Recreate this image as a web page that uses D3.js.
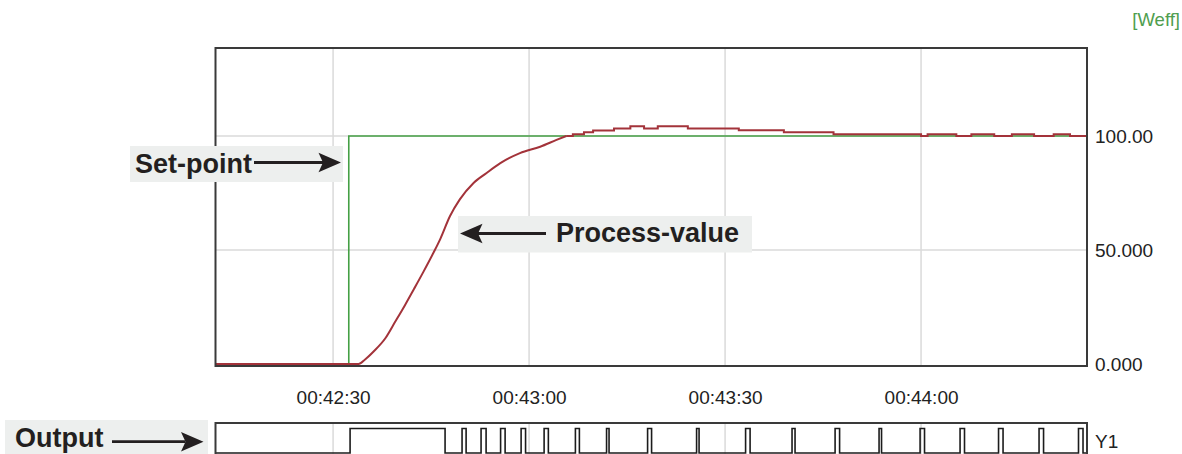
<!DOCTYPE html>
<html>
<head>
<meta charset="utf-8">
<script src="https://cdn.jsdelivr.net/npm/d3@7"></script>
<style>
  html, body { margin: 0; padding: 0; background: #fff; }
  svg { display: block; font-family: "Liberation Sans", Arial, sans-serif; }
</style>
</head>
<body>
<svg id="chart" width="1182" height="454"></svg>
<script>
// Time is in seconds after 00:42:00
const timeDomain = [12.0, 145.4];
const xTickValues = [30, 60, 90, 120];
const xTickLabels = ["00:42:30", "00:43:00", "00:43:30", "00:44:00"];
const yTickValues = [0, 50, 100];
const yTickLabels = ["0.000", "50.000", "100.00"];
const unitLabel = "[Weff]";
const outputLabel = "Y1";

// Set-point: step from 0 to 100
const setpointTimes = [12.0, 32.4, 145.4];
const setpointValues = [0, 100, 100];

// Process-value: smooth rise after the step
const pvRiseTimes = [12.0, 33.9, 34.9, 36.2, 38.0, 39.5, 41.0, 42.4, 43.8, 45.4, 46.4,
                     47.9, 49.4, 51.5, 53.5, 55.6, 58.6, 61.7, 64.2, 65.7];
const pvRiseValues = [0, 0, 2.0, 5.5, 11.3, 18.5, 25.8, 33.0, 40.3, 49.0, 54.8,
                      64.9, 72.2, 79.4, 83.8, 88.1, 92.5, 95.3, 98.3, 100];

// Process-value: quantised settling around the set-point
const pvSettleTimes = [65.7, 66.7, 68.4, 69.8, 73.0, 75.5, 77.6, 79.7, 84.3, 92.1, 99.0,
                       106.6, 120.0, 121.0, 125.4, 127.7, 131.2, 133.9, 137.3, 140.3, 142.8, 145.4];
const pvSettleValues = [100, 100.8, 101.6, 102.4, 103.3, 104.3, 103.3, 104.3, 103.3, 102.5, 101.6,
                        100.8, 100, 100.8, 100, 100.8, 100, 100.8, 100, 100.8, 100, 100];

// Output Y1: switching intervals (on / off times)
const outputOnTimes = [32.6, 49.74, 52.65, 55.64, 58.78, 62.30, 67.09, 71.86, 78.14, 85.64,
                       93.14, 100.25, 106.84, 113.57, 119.85, 125.97, 131.86, 138.06, 144.10];
const outputOffTimes = [47.14, 50.36, 53.42, 56.33, 59.46, 62.95, 67.70, 72.24, 78.75, 86.02,
                        93.83, 100.71, 107.53, 113.95, 120.53, 126.65, 132.55, 138.75, 144.79];

// Layout
const plot = { left: 215.5, right: 1087, top: 48, bottom: 366 };
const strip = { top: 423, bottom: 456, high: 428.5, low: 453 };
const frameColor = "#3a3a3a";
const gridColor = "#dadada";
const spColor = "#45a045";
const pvColor = "#a3333a";
const inkColor = "#231f20";
const noteFill = "#edefee";
const tickFont = 19;

const svg = d3.select("#chart");

const x = d3.scaleLinear().domain(timeDomain).range([plot.left, plot.right]);
const y = d3.scaleLinear().domain([0, 100]).range([364, 136]);
const yOut = d3.scaleLinear().domain([0, 1]).range([strip.low, strip.high]);

// ---- grid lines (main plot and output strip)
const grid = svg.append("g");
grid.selectAll("line.vx").data(xTickValues).join("line")
  .attr("x1", d => x(d)).attr("x2", d => x(d))
  .attr("y1", plot.top).attr("y2", plot.bottom)
  .attr("stroke", gridColor).attr("stroke-width", 1.5);
grid.selectAll("line.hy").data(yTickValues.filter(v => v > 0)).join("line")
  .attr("x1", plot.left).attr("x2", plot.right)
  .attr("y1", d => y(d)).attr("y2", d => y(d))
  .attr("stroke", gridColor).attr("stroke-width", 1.5);
const grid2 = svg.append("g");
grid2.selectAll("line").data(xTickValues).join("line")
  .attr("x1", d => x(d)).attr("x2", d => x(d))
  .attr("y1", strip.top).attr("y2", strip.bottom)
  .attr("stroke", gridColor).attr("stroke-width", 1.5);

// ---- set-point line
const spLine = d3.line().x(d => x(d[0])).y(d => y(d[1])).curve(d3.curveStepAfter);
svg.append("path")
  .datum(d3.zip(setpointTimes, setpointValues))
  .attr("d", spLine)
  .attr("fill", "none").attr("stroke", spColor).attr("stroke-width", 1.6);

// ---- process-value line
const pvRise = d3.line().x(d => x(d[0])).y(d => y(d[1])).curve(d3.curveMonotoneX);
const pvSettle = d3.line().x(d => x(d[0])).y(d => y(d[1])).curve(d3.curveStepAfter);
svg.append("path")
  .datum(d3.zip(pvRiseTimes, pvRiseValues))
  .attr("d", pvRise)
  .attr("fill", "none").attr("stroke", pvColor).attr("stroke-width", 2)
  .attr("stroke-linejoin", "round");
svg.append("path")
  .datum(d3.zip(pvSettleTimes, pvSettleValues))
  .attr("d", pvSettle)
  .attr("fill", "none").attr("stroke", pvColor).attr("stroke-width", 2);

// ---- output signal
const outPts = [[timeDomain[0], 0]];
outputOnTimes.forEach((on, i) => {
  const off = outputOffTimes[i];
  outPts.push([on, 0], [on, 1], [off, 1], [off, 0]);
});
outPts.push([timeDomain[1], 0]);
svg.append("path")
  .datum(outPts)
  .attr("d", d3.line().x(d => x(d[0])).y(d => yOut(d[1])))
  .attr("fill", "none").attr("stroke", "#1c1c1c").attr("stroke-width", 1.6);

// ---- frames
svg.append("rect")
  .attr("x", plot.left).attr("y", plot.top)
  .attr("width", plot.right - plot.left).attr("height", plot.bottom - plot.top)
  .attr("fill", "none").attr("stroke", frameColor).attr("stroke-width", 2);
svg.append("rect")
  .attr("x", plot.left).attr("y", strip.top)
  .attr("width", plot.right - plot.left).attr("height", strip.bottom - strip.top)
  .attr("fill", "none").attr("stroke", frameColor).attr("stroke-width", 2);

// ---- axes
const xAxis = d3.axisBottom(x).tickValues(xTickValues)
  .tickFormat((d, i) => xTickLabels[i]).tickSize(0).tickPadding(0);
const gx = svg.append("g").attr("transform", `translate(0,${plot.bottom})`).call(xAxis);
gx.select(".domain").remove();
gx.selectAll("text")
  .attr("y", 37.5).attr("dy", null)
  .attr("font-size", tickFont).attr("font-family", "Liberation Sans, Arial, sans-serif")
  .attr("fill", "#222");

const yAxis = d3.axisRight(y).tickValues(yTickValues)
  .tickFormat((d, i) => yTickLabels[i]).tickSize(0).tickPadding(0);
const gy = svg.append("g").attr("transform", `translate(${plot.right + 8},0)`).call(yAxis);
gy.select(".domain").remove();
gy.selectAll("text")
  .attr("x", 0).attr("dy", "0.36em")
  .attr("font-size", tickFont).attr("font-family", "Liberation Sans, Arial, sans-serif")
  .attr("fill", "#222");

svg.append("text")
  .attr("x", 1180).attr("y", 26).attr("text-anchor", "end")
  .attr("font-size", 18.5).attr("fill", "#4f9e4f")
  .text(unitLabel);

svg.append("text")
  .attr("x", plot.right + 8).attr("y", yOut(0.5)).attr("dy", "0.36em")
  .attr("font-size", tickFont).attr("fill", "#222")
  .text(outputLabel);

// ---- annotations
function arrow(g, x0, x1, yc) {
  // shaft from x0 to the head, head tip at x1 (either direction)
  const dir = x1 > x0 ? 1 : -1;
  const headLen = 22.5, half = 9.8, notch = 4.5;
  const back = x1 - dir * headLen;
  g.append("line")
    .attr("x1", x0).attr("x2", back + dir * notch).attr("y1", yc).attr("y2", yc)
    .attr("stroke", inkColor).attr("stroke-width", 2.8);
  g.append("path")
    .attr("d", `M${x1},${yc} L${back},${yc - half} L${back + dir * notch},${yc} L${back},${yc + half} Z`)
    .attr("fill", inkColor);
}
function note(box, label, tx, ty, ax0, ax1, ay) {
  const g = svg.append("g");
  g.append("rect").attr("x", box[0]).attr("y", box[1])
    .attr("width", box[2]).attr("height", box[3]).attr("fill", noteFill);
  g.append("text").attr("x", tx).attr("y", ty)
    .attr("font-size", 27).attr("font-weight", "bold").attr("fill", inkColor)
    .text(label);
  arrow(g, ax0, ax1, ay);
}
note([130, 146, 213, 36], "Set-point", 135, 172.5, 254, 341, 162.5);
note([458, 216, 294, 36.5], "Process-value", 556, 242, 546, 460, 233.5);
note([5, 420, 203, 40], "Output", 15, 447, 112, 203.5, 441.7);
</script>
</body>
</html>
